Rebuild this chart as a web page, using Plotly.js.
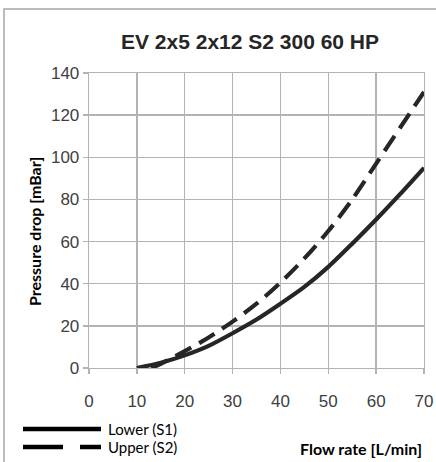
<!DOCTYPE html>
<html>
<head>
<meta charset="utf-8">
<script src="https://cdn.plot.ly/plotly-3.0.1.min.js"></script>
<style>
  html, body { margin: 0; padding: 0; background: #fff; overflow: hidden; }
  #chart { width: 436px; height: 462px; }
</style>
</head>
<body>
<div id="chart"></div>
<script>
// ---- data ----
const chartTitle = "EV 2x5 2x12 S2 300 60 HP";
const xTitle = "Flow rate [L/min]";
const yTitle = "Pressure drop [mBar]";
const seriesNames = ["Lower (S1)", "Upper (S2)"];

const lowerFlow = [10, 15, 20, 25, 30, 35, 40, 45, 50, 55, 60, 65, 70];
const lowerDrop = [0, 2.5, 6, 10.5, 16.5, 23, 30.5, 38.5, 48, 59, 70.5, 82.5, 95];

const upperFlow = [13, 15, 20, 25, 30, 35, 40, 45, 50, 55, 60, 65, 70];
const upperDrop = [0, 2, 8, 14.5, 22, 30.5, 40.5, 52, 65, 80, 97, 114, 131];

const xTicks = [0, 10, 20, 30, 40, 50, 60, 70];
const yTicks = [0, 20, 40, 60, 80, 100, 120, 140];

// ---- styling ----
const lineColor = "#262626";
const gridColor = "#b3b3b3";
const tickFont = { family: "Liberation Sans, Arial, sans-serif", size: 17, color: "#404040" };
const labelFont = { family: "Lato, Calibri, sans-serif", size: 16, color: "#000" };

const traces = [
  { x: lowerFlow, y: lowerDrop, name: seriesNames[0], type: "scatter", mode: "lines",
    line: { color: lineColor, width: 4.2, shape: "spline", smoothing: 0.8 } },
  { x: upperFlow, y: upperDrop, name: seriesNames[1], type: "scatter", mode: "lines",
    line: { color: lineColor, width: 4.2, dash: "18px,9px", shape: "spline", smoothing: 0.8 } }
];

// plot area: left 89, right 424, top 73, bottom 368  (w 335, h 295)
const W = 335, H = 295, L = 89, T = 73;
const px = v => (v - L) / W;          // pixel x -> paper x
const py = v => 1 - (v - T) / H;      // pixel y -> paper y

const layout = {
  width: 436, height: 462,
  margin: { l: 89, r: 12, t: 73, b: 94 },
  paper_bgcolor: "#fff", plot_bgcolor: "#fff",
  showlegend: false,
  title: { text: "<b>" + chartTitle + "</b>", font: { family: "Liberation Sans, Arial, sans-serif", size: 21, color: "#262626" },
           x: 250 / 436, xref: "container", xanchor: "center", y: 1 - 42 / 462, yref: "container", yanchor: "middle" },
  xaxis: {
    range: [0, 70], tickvals: xTicks, ticktext: xTicks.map(String),
    showgrid: true, gridcolor: gridColor, gridwidth: 1.3,
    showline: true, linecolor: gridColor, linewidth: 1.3, mirror: true,
    ticks: "outside", ticklen: 5, tickcolor: gridColor, tickwidth: 1.3,
    zeroline: false, tickfont: tickFont, ticklabelstandoff: 12
  },
  yaxis: {
    range: [0, 140], tickvals: yTicks, ticktext: yTicks.map(String),
    showgrid: true, gridcolor: gridColor, gridwidth: 1.3,
    showline: true, linecolor: gridColor, linewidth: 1.3, mirror: true,
    ticks: "outside", ticklen: 5, tickcolor: gridColor, tickwidth: 1.3,
    zeroline: false, tickfont: tickFont
  },
  shapes: [
    // outer chart frame (cropped on right/bottom as in reference)
    { type: "rect", xref: "paper", yref: "paper", x0: px(4), x1: px(470), y0: py(500), y1: py(9),
      line: { color: "#a6a6a6", width: 1.5 }, fillcolor: "rgba(0,0,0,0)", layer: "below" },
    // legend keys
    { type: "line", xref: "paper", yref: "paper", x0: px(23), x1: px(101), y0: py(429), y1: py(429),
      line: { color: "#000", width: 4.5 } },
    { type: "line", xref: "paper", yref: "paper", x0: px(23), x1: px(101), y0: py(447), y1: py(447),
      line: { color: "#000", width: 4.5, dash: "40px,17px" } }
  ],
  annotations: [
    { text: seriesNames[0], xref: "paper", yref: "paper", x: px(106), y: py(429), xanchor: "left", yanchor: "middle",
      showarrow: false, font: { family: "Lato, Calibri, sans-serif", size: 15, color: "#000" } },
    { text: seriesNames[1], xref: "paper", yref: "paper", x: px(106), y: py(447), xanchor: "left", yanchor: "middle",
      showarrow: false, font: { family: "Lato, Calibri, sans-serif", size: 15, color: "#000" } },
    { text: "<b>" + xTitle + "</b>", xref: "paper", yref: "paper", x: px(424), y: py(448), xanchor: "right", yanchor: "middle",
      showarrow: false, font: labelFont },
    { text: "<b>" + yTitle + "</b>", xref: "paper", yref: "paper", x: px(34), y: py(232), xanchor: "center", yanchor: "middle",
      textangle: -90, showarrow: false, font: labelFont }
  ]
};

Plotly.newPlot("chart", traces, layout, { displayModeBar: false, staticPlot: true });
</script>
</body>
</html>
